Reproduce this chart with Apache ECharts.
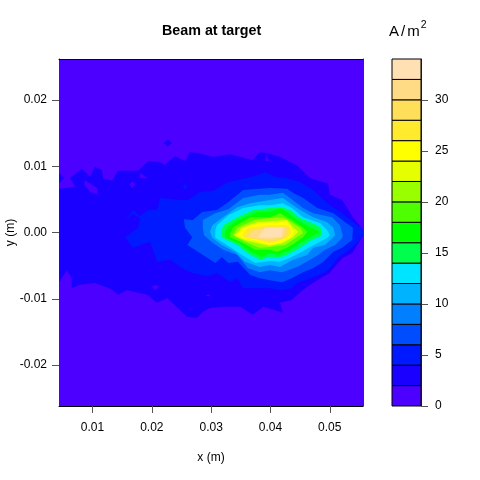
<!DOCTYPE html>
<html>
<head>
<meta charset="utf-8">
<style>html,body{margin:0;padding:0;background:#fff}#c{width:480px;height:480px}</style>
<script src="https://cdn.jsdelivr.net/npm/echarts@6/dist/echarts.min.js"></script>
</head>
<body>
<div id="c"></div>
<script>
// Contour levels (A/m^2) and colours
const levels = [0,2,4,6,8,10,12,14,16,18,20,22,24,26,28,30,32,34];
const colors = ['#4C00FF','#1A00FF','#0019FF','#004CFF','#0080FF','#00B3FF','#00E5FF','#00FF4D','#00FF00','#4DFF00','#99FF00','#E6FF00','#FFFF00','#FFEA2D','#FFDE59','#FFDB86','#FFE0B3'];
const xTicks = [0.01,0.02,0.03,0.04,0.05];
const yTicks = [-0.02,-0.01,0,0.01,0.02];
const barTicks = [0,5,10,15,20,25,30];
const xRange = [0.00435,0.0556];
const yRange = [-0.02617,0.02617];

// Iso-lines: [x mm, y mm] for each level
const c2 = [[4.35,6.6],[7.1,6.9],[6.2,8.2],[8.2,9.6],[9.6,8.4],[10.4,9.9],[11.6,9.4],[11.8,8.1],[13.3,7.8],[14.3,9.3],[17.7,9.3],[19.4,10.8],[21.4,10.6],[22.2,10.2],[23.9,11.5],[25.6,10.8],[26.4,12.1],[27.8,12.0],[30.3,11.4],[33.2,11.8],[37.0,10.9],[38.2,12.1],[39.4,12.0],[41.6,11.4],[44.5,10.1],[46.7,8.2],[49.7,7.4],[50.0,5.7],[52.1,4.9],[53.9,2.3],[55.6,0.4],[55.6,-0.5],[53.8,-3.1],[52.2,-3.8],[50.6,-5.4],[50.0,-6.1],[47.9,-7.2],[46.2,-8.2],[45.0,-9.0],[43.6,-10.2],[41.6,-10.6],[42.1,-12.1],[38.8,-11.2],[37.0,-12.4],[34.9,-11.2],[32.0,-11.2],[29.8,-11.4],[28.6,-12.0],[27.6,-12.9],[25.9,-12.7],[24.4,-11.4],[22.6,-9.9],[20.9,-10.6],[19.2,-9.4],[15.8,-8.7],[14.3,-9.4],[13.0,-8.5],[10.4,-7.6],[7.9,-7.9],[6.5,-8.4],[6.5,-6.9],[5.7,-5.7],[4.35,-7.5]];
const c2b = [[4.35,9.0],[5.2,8.2],[4.35,7.4]];
const c2c = [[22.0,13.5],[22.7,14.0],[23.4,13.5],[22.7,13.0]];
const c0a = [[8.7,7.9],[10.8,6.7],[10.9,5.7],[9.6,6.1],[8.6,7.2]];
const c0b = [[18.0,9.0],[19.4,8.2],[18.0,8.2]];
const c0c = [[16.2,7.2],[16.7,7.7],[17.2,7.2],[16.7,6.7]];
const c0d = [[39.3,11.8],[39.8,10.8],[39.1,10.8]];
const c0e = [[20.0,-8.2],[20.6,-7.9],[21.2,-8.2],[20.6,-8.7]];
const c0f = [[29.1,-9.5],[29.5,-9.3],[29.9,-9.5],[29.5,-9.7]];
const c4 = [[15.5,1.9],[16.9,3.4],[18.0,2.5],[19.4,3.4],[20.9,3.4],[21.4,5.2],[24.8,4.9],[26.1,4.9],[28.1,6.1],[30.3,6.3],[32.9,7.6],[36.9,8.4],[39.1,9.1],[40.8,8.4],[42.8,8.2],[45.0,7.6],[47.2,6.4],[50.0,4.1],[52.1,2.9],[53.9,1.6],[55.6,0.5],[55.6,-0.2],[54.8,-1.4],[52.9,-2.9],[51.4,-3.8],[50.0,-5.4],[49.2,-6.0],[46.7,-6.9],[44.5,-7.6],[43.6,-8.4],[41.6,-8.7],[39.9,-8.4],[35.4,-8.4],[34.4,-6.9],[33.2,-7.5],[31.0,-6.1],[29.3,-6.6],[26.4,-6.0],[24.8,-5.2],[23.1,-4.1],[20.9,-4.4],[19.7,-1.4],[16.8,-2.3],[15.5,-0.7],[17.7,0.7],[18.0,2.2],[16.8,2.8]];
const c4b = [[25.2,6.9],[25.6,7.3],[26.0,6.9],[25.6,6.5]];
const c6 = [[25.4,2.0],[26.9,1.9],[28.5,3.1],[31.0,3.4],[32.9,4.6],[35.4,6.4],[39.9,6.7],[42.8,6.6],[43.8,6.0],[45.5,5.2],[47.9,3.7],[50.6,2.9],[52.1,1.9],[53.9,0.7],[53.8,-1.1],[52.1,-2.3],[50.6,-2.9],[48.9,-4.4],[47.2,-5.4],[45.5,-6.0],[43.6,-6.9],[41.95,-7.5],[39.9,-7.2],[38.2,-6.9],[36.6,-6.4],[34.5,-4.4],[32.9,-4.6],[31.8,-3.7],[30.7,-4.6],[28.6,-3.4],[26.0,-1.9],[26.8,-0.7],[25.6,0.7]];
const c8 = [[28.6,0.7],[28.6,1.9],[30.7,2.9],[32.9,3.5],[35.4,5.2],[38.2,5.7],[39.9,5.7],[42.1,6.0],[43.3,5.2],[45.5,3.7],[47.2,2.9],[50.4,2.3],[51.7,1.1],[52.2,-0.4],[52.1,-0.8],[50.9,-1.9],[49.2,-2.6],[48.0,-3.4],[46.7,-4.1],[44.5,-5.2],[41.95,-6.0],[39.9,-5.7],[38.2,-6.0],[36.2,-5.4],[34.4,-3.4],[32.0,-2.6],[30.3,-1.6],[28.8,-0.4]];
const c10 = [[29.8,0.1],[30.2,1.1],[32.0,2.3],[34.4,3.8],[36.6,4.4],[39.9,4.9],[42.1,5.2],[43.3,4.4],[45.0,3.4],[47.2,2.3],[49.5,1.6],[50.6,0.7],[50.9,-0.4],[50.6,-0.7],[49.2,-1.9],[47.2,-2.3],[46.2,-3.4],[43.8,-4.1],[41.6,-5.2],[39.9,-4.9],[38.2,-5.2],[35.7,-4.4],[34.0,-2.9],[31.8,-1.9],[30.2,-0.8]];
const c12 = [[30.7,0.4],[31.0,1.1],[32.9,2.6],[35.4,3.7],[38.2,4.1],[39.9,4.1],[42.1,4.4],[43.6,3.7],[45.5,2.3],[48.4,1.4],[49.5,0.4],[50.0,-0.4],[49.7,-0.7],[48.4,-1.4],[46.7,-2.2],[45.3,-2.9],[43.3,-3.8],[41.6,-4.4],[39.9,-4.3],[37.4,-4.6],[35.2,-3.4],[33.2,-2.2],[30.7,-0.8]];
const c14 = [[31.7,-0.1],[32.0,1.1],[34.4,2.3],[37.1,3.4],[39.9,3.7],[41.95,3.8],[43.3,3.4],[45.0,2.2],[47.9,1.1],[48.7,0.4],[48.7,-0.5],[47.0,-1.1],[45.0,-2.3],[42.8,-3.4],[41.3,-3.8],[39.9,-3.7],[38.2,-4.1],[36.1,-3.1],[34.4,-1.9],[31.8,-0.7]];
const c16 = [[32.3,-0.1],[32.7,0.8],[34.5,1.9],[37.7,3.1],[39.9,3.1],[41.6,3.7],[42.8,3.1],[44.5,1.9],[46.7,0.8],[48.4,0.1],[46.7,-0.7],[45.0,-1.6],[43.3,-2.6],[41.3,-3.4],[39.9,-3.1],[38.6,-3.7],[36.6,-2.9],[34.9,-1.7],[32.3,-0.7]];
const c18 = [[33.2,-0.1],[33.7,0.8],[36.6,2.3],[39.9,2.3],[41.6,2.9],[43.6,1.9],[45.5,0.7],[46.2,0.1],[45.5,-0.7],[44.1,-1.6],[42.8,-2.3],[41.1,-2.9],[39.9,-2.6],[37.4,-2.6],[35.4,-1.6],[33.2,-0.7]];
const c20 = [[33.7,-0.4],[34.5,0.8],[37.4,1.9],[39.9,2.2],[42.1,2.3],[43.8,1.4],[45.0,0.7],[45.5,-0.1],[43.8,-1.1],[42.5,-1.9],[39.9,-2.2],[38.2,-2.3],[35.7,-1.4]];
const c22 = [[34.0,-0.4],[35.2,0.8],[37.9,1.6],[39.9,1.7],[42.8,1.9],[43.8,0.8],[44.7,0.1],[43.8,-0.7],[42.1,-1.6],[39.9,-2.0],[36.2,-1.3],[34.4,-0.7]];
const c24 = [[34.5,-0.4],[35.4,0.7],[38.2,1.4],[42.8,1.6],[43.8,0.4],[44.1,0.1],[43.3,-0.8],[41.6,-1.6],[39.9,-1.9],[36.9,-1.1],[34.9,-0.8]];
const c26 = [[35.2,-0.4],[36.2,0.7],[39.9,1.1],[43.0,1.1],[43.6,0.1],[42.8,-0.8],[39.9,-1.6],[37.9,-1.1],[35.7,-0.8]];
const c28 = [[35.7,-0.7],[36.9,0.4],[39.9,0.8],[42.8,0.8],[43.0,-0.1],[41.95,-1.1],[39.9,-1.4],[38.6,-1.1],[36.1,-0.8]];
const c30 = [[36.2,-0.7],[37.4,0.4],[39.9,0.7],[42.5,0.7],[42.5,-0.1],[41.6,-0.7],[39.9,-1.1],[36.6,-0.8]];
const c32 = [[39.1,0.7],[42.1,0.8],[41.95,-0.7],[37.9,-0.8]];

// [outline, index of the fill colour], painted from the outside in
const contours = [
  [c2,1],[c2b,1],[c2c,1],[c0a,0],[c0b,0],[c0c,0],[c0d,0],[c0e,0],[c0f,0],
  [c4,2],[c4b,2],[c6,3],[c8,4],[c10,5],[c12,6],[c14,7],[c16,8],[c18,9],
  [c20,10],[c22,11],[c24,12],[c26,13],[c28,14],[c30,15],[c32,16]
];

const font = '"Liberation Sans", Arial, sans-serif';
const line = {show:true,onZero:false,lineStyle:{color:'#333',width:1}};
const rich = (size,extra)=>Object.assign({fontFamily:font,fontSize:size,fontWeight:'normal',color:'#000'},extra);
const chart = echarts.init(document.getElementById('c'),null,{renderer:'canvas'});
chart.setOption({
  animation:false,
  backgroundColor:'#fff',
  title:[
    {text:'Beam at target',left:162,top:24,padding:0,textStyle:{fontFamily:font,fontSize:14.3,fontWeight:'bold',color:'#000'}},
    {text:'{a|A}{s|/}{m|m}{p|2}',left:389,top:20,padding:0,textStyle:{fontFamily:font,fontWeight:'normal',color:'#000',rich:{
      a:rich(15,{verticalAlign:'bottom',lineHeight:19}),
      s:rich(15,{padding:[0,2,0,2],verticalAlign:'bottom',lineHeight:19}),
      m:rich(15,{verticalAlign:'bottom',lineHeight:19}),
      p:rich(10.5,{verticalAlign:'top',lineHeight:11,padding:[0,0,0,1]})
    }}}
  ],
  grid:[
    {left:59,top:59,width:304,height:347,show:true,backgroundColor:colors[0],borderWidth:0,outerBoundsMode:'none',containLabel:false},
    {left:392,top:59,width:29,height:347,show:false,outerBoundsMode:'none',containLabel:false}
  ],
  xAxis:[
    {type:'value',gridIndex:0,min:xRange[0],max:xRange[1],splitLine:{show:false},axisLine:{...line,lineStyle:{color:'#000',width:1}},
     axisTick:{show:true,length:7,lineStyle:{color:'#555'},customValues:xTicks},
     axisLabel:{fontFamily:font,fontSize:12,color:'#000',margin:16,customValues:xTicks,formatter:v=>v.toFixed(2)},
     name:'x (m)',nameLocation:'middle',nameGap:46,nameMoveOverlap:false,nameTextStyle:{fontFamily:font,fontSize:12,color:'#000'}},
    {type:'value',gridIndex:0,position:'top',min:xRange[0],max:xRange[1],splitLine:{show:false},axisLine:{...line,lineStyle:{color:'#000',width:1}},axisTick:{show:false},axisLabel:{show:false}},
    {type:'value',gridIndex:1,min:0,max:1,show:false}
  ],
  yAxis:[
    {type:'value',gridIndex:0,min:yRange[0],max:yRange[1],splitLine:{show:false},axisLine:line,
     axisTick:{show:true,length:7,lineStyle:{color:'#555'},customValues:yTicks},
     axisLabel:{fontFamily:font,fontSize:12,color:'#000',margin:12,padding:[4,0,0,0],customValues:yTicks,formatter:v=>v.toFixed(2)},
     name:'y (m)',nameLocation:'middle',nameGap:42,nameMoveOverlap:false,nameTextStyle:{fontFamily:font,fontSize:12,color:'#000'}},
    {type:'value',gridIndex:0,position:'right',min:yRange[0],max:yRange[1],splitLine:{show:false},axisLine:line,axisTick:{show:false},axisLabel:{show:false}},
    {type:'value',gridIndex:1,position:'right',min:levels[0],max:levels[levels.length-1],splitLine:{show:false},axisLine:line,
     axisTick:{show:true,length:7,lineStyle:{color:'#555'},customValues:barTicks},
     axisLabel:{fontFamily:font,fontSize:12,color:'#000',margin:14,padding:[4,0,0,0],customValues:barTicks,formatter:v=>String(v)}}
  ],
  series:[
    {type:'custom',xAxisIndex:0,yAxisIndex:0,clip:true,silent:true,z:2,coordinateSystem:'cartesian2d',
     data:contours.map((c,i)=>[c[0][0][0]/1000,c[0][0][1]/1000,i]),
     encode:{x:0,y:1},
     renderItem:(p,api)=>{
       const c=contours[api.value(2)];
       return {type:'polygon',shape:{points:c[0].map(q=>api.coord([q[0]/1000,q[1]/1000]))},style:{fill:colors[c[1]],stroke:null}};
     }},
    {type:'custom',xAxisIndex:2,yAxisIndex:2,clip:false,silent:true,z:2,coordinateSystem:'cartesian2d',
     data:colors.map((c,i)=>[0,levels[i],levels[i+1],i]),
     encode:{x:0,y:[1,2]},
     renderItem:(p,api)=>{
       const a=api.coord([0,api.value(1)]),b=api.coord([1,api.value(2)]);
       return {type:'rect',shape:{x:a[0],y:b[1],width:b[0]-a[0],height:a[1]-b[1]},style:{fill:colors[api.value(3)],stroke:'#000',lineWidth:1}};
     }}
  ]
});
</script>
</body>
</html>
